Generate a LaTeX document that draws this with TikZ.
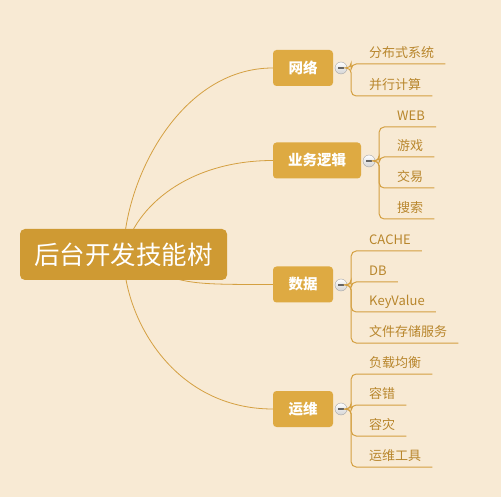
\documentclass[tikz,border=0pt]{standalone}
\usepackage{fontspec}
\setmainfont{Noto Sans CJK SC}
\usetikzlibrary{backgrounds}
\definecolor{bgcol}{HTML}{F8EAD4}
\definecolor{rootcol}{HTML}{CF9A33}
\definecolor{boxcol}{HTML}{DEAA42}
\definecolor{linecol}{HTML}{D4A041}
\definecolor{leafcol}{HTML}{B8862C}

\begin{document}
\begin{tikzpicture}[x=1pt,y=-1pt]
		\tikzstyle{root}=[fill=rootcol,rounded corners=5pt,minimum width=207pt,minimum height=51pt,inner sep=0pt,text=white,font=\fontsize{25.5}{26}\selectfont]
		\tikzstyle{topic}=[fill=boxcol,rounded corners=3.5pt,minimum height=36pt,inner sep=0pt,text=white,font=\bfseries\fontsize{14.5}{15}\selectfont]
		\tikzstyle{fold}=[draw=gray!70,circle,minimum size=12pt,inner sep=0pt,top color=white,bottom color=gray!35,path picture={\fill[gray!80!black] ([xshift=-3pt,yshift=-1pt]path picture bounding box.center) rectangle ++(6pt,2pt);}]
		\tikzstyle{leaf}=[anchor=south west,inner sep=0pt,text height=10pt,text depth=6.5pt,text=leafcol,font=\fontsize{13}{13}\selectfont]
		\tikzstyle{branch}=[draw=linecol,line width=0.8pt]
		\tikzstyle{twig}=[draw=linecol,line width=1pt,rounded corners=5pt]
		
		\useasboundingbox (0,0) rectangle (501,497);
		
		\node[root](root) at (123.5,254.5){后台开发技能树};
		
		\node[topic,minimum width=60pt](net) at (303,68){网络};
		\node[topic,minimum width=88pt](biz) at (317,160.5){业务逻辑};
		\node[topic,minimum width=60pt](data) at (303,284.5){数据};
		\node[topic,minimum width=60pt](ops) at (303,409){运维};
		
		\node[fold](netf) at (341,68){};
		\node[fold](bizf) at (369,161){};
		\node[fold](dataf) at (341,285){};
		\node[fold](opsf) at (341,409){};
		
		\node[leaf](net1) at (369,64){分布式系统};
		\node[leaf](net2) at (369,96){并行计算};
		
		\node[leaf](biz1) at (397,127){WEB};
		\node[leaf](biz2) at (397,157){游戏};
		\node[leaf](biz3) at (397,188){交易};
		\node[leaf](biz4) at (397,219){搜索};
		
		\node[leaf](data1) at (369,251){CACHE};
		\node[leaf](data2) at (369,282){DB};
		\node[leaf](data3) at (369,312){KeyValue};
		\node[leaf](data4) at (369,343){文件存储服务};
		
		\node[leaf](ops1) at (369,374){负载均衡};
		\node[leaf](ops2) at (369,405){容错};
		\node[leaf](ops3) at (369,436){容灾};
		\node[leaf](ops4) at (369,467){运维工具};
		
		\begin{pgfonlayer}{background}
		\fill[bgcol] (0,0) rectangle (501,497);
		\draw[branch] (root.center) .. controls (124,180) and (180,68) .. (net.west);
		\draw[branch] (root.center) .. controls (135,205) and (190,160.5) .. (biz.west);
		\draw[branch] (root.center) .. controls (180,284.5) .. (data.west);
		\draw[branch] (root.center) .. controls (124,320) and (175,409) .. (ops.west);
		\end{pgfonlayer}
		
		\draw[twig] (netf.east) -- ++(4,0) |- ([xshift=11pt]net1.south east);
		\draw[twig] (netf.east) -- ++(4,0) |- ([xshift=11pt]net2.south east);
		
		\draw[twig] (bizf.east) -- ++(4,0) |- ([xshift=11pt]biz1.south east);
		\draw[twig] (bizf.east) -- ++(4,0) |- ([xshift=11pt]biz2.south east);
		\draw[twig] (bizf.east) -- ++(4,0) |- ([xshift=11pt]biz3.south east);
		\draw[twig] (bizf.east) -- ++(4,0) |- ([xshift=11pt]biz4.south east);
		
		\draw[twig] (dataf.east) -- ++(4,0) |- ([xshift=11pt]data1.south east);
		\draw[twig] (dataf.east) -- ++(4,0) |- ([xshift=11pt]data2.south east);
		\draw[twig] (dataf.east) -- ++(4,0) |- ([xshift=11pt]data3.south east);
		\draw[twig] (dataf.east) -- ++(4,0) |- ([xshift=11pt]data4.south east);
		
		\draw[twig] (opsf.east) -- ++(4,0) |- ([xshift=11pt]ops1.south east);
		\draw[twig] (opsf.east) -- ++(4,0) |- ([xshift=11pt]ops2.south east);
		\draw[twig] (opsf.east) -- ++(4,0) |- ([xshift=11pt]ops3.south east);
		\draw[twig] (opsf.east) -- ++(4,0) |- ([xshift=11pt]ops4.south east);
\end{tikzpicture}
\end{document}
